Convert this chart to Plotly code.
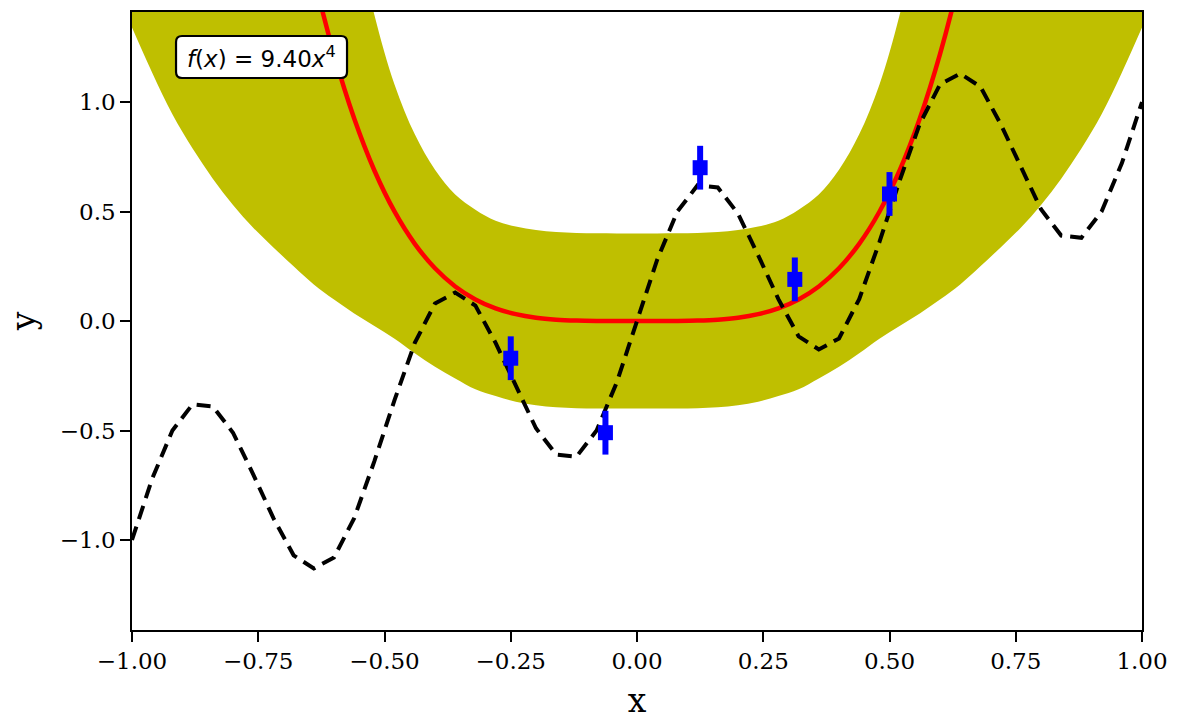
import numpy as np
import plotly.graph_objects as go

# Sample positions shared by the curves and the uncertainty band
x_grid = [round(-1.0 + 0.04 * i, 2) for i in range(51)]

# Underlying (true) function, dashed black
y_true = [
    -1.00, -0.72, -0.50, -0.38, -0.39, -0.51, -0.70, -0.90, -1.07, -1.13,
    -1.08, -0.90, -0.64, -0.36, -0.10, 0.08, 0.13, 0.07, -0.10, -0.30,
    -0.49, -0.61, -0.62, -0.50, -0.28, 0.00, 0.28, 0.50, 0.62, 0.61,
    0.49, 0.30, 0.10, -0.07, -0.13, -0.08, 0.10, 0.36, 0.64, 0.90,
    1.08, 1.13, 1.07, 0.90, 0.70, 0.51, 0.39, 0.38, 0.50, 0.72,
    1.00,
]

# Half-width of the predictive band around the fitted curve
band_half = [
    8.06, 6.85, 5.79, 4.85, 4.03, 3.32, 2.71, 2.19, 1.76, 1.41,
    1.12, 0.89, 0.71, 0.58, 0.50, 0.45, 0.42, 0.41, 0.40, 0.40,
    0.40, 0.40, 0.40, 0.40, 0.40, 0.40, 0.40, 0.40, 0.40, 0.40,
    0.40, 0.40, 0.40, 0.41, 0.42, 0.45, 0.50, 0.58, 0.71, 0.89,
    1.12, 1.41, 1.76, 2.19, 2.71, 3.32, 4.03, 4.85, 5.79, 6.85,
    8.06,
]

# Fitted model f(x) = coef * x^4
coef = 9.40

# Noisy observations with error bars
obs_x = [-0.25, -0.0625, 0.125, 0.3125, 0.5]
obs_y = [-0.17, -0.51, 0.70, 0.19, 0.58]
obs_err = [0.10, 0.10, 0.10, 0.10, 0.10]

x_tick_vals = [-1.0, -0.75, -0.5, -0.25, 0.0, 0.25, 0.5, 0.75, 1.0]
x_tick_text = ["\u22121.00", "\u22120.75", "\u22120.50", "\u22120.25", "0.00",
               "0.25", "0.50", "0.75", "1.00"]
y_tick_vals = [-1.0, -0.5, 0.0, 0.5, 1.0]
y_tick_text = ["\u22121.0", "\u22120.5", "0.0", "0.5", "1.0"]

xs = np.array(x_grid)
y_fit = coef * xs ** 4
half = np.array(band_half)
lower = y_fit - half
upper = y_fit + half

fig = go.Figure()

# Uncertainty band (smoothed edges)
fig.add_trace(go.Scatter(x=xs, y=lower, mode="lines",
                         line=dict(width=0, shape="spline", smoothing=1.0),
                         hoverinfo="skip", showlegend=False))
fig.add_trace(go.Scatter(x=xs, y=upper, mode="lines",
                         line=dict(width=0, shape="spline", smoothing=1.0),
                         fill="tonexty", fillcolor="#BFBF00",
                         hoverinfo="skip", showlegend=False))

# Fitted curve
fig.add_trace(go.Scatter(x=xs, y=y_fit, mode="lines",
                         line=dict(color="#FF0000", width=4.5, shape="spline",
                                   smoothing=1.0),
                         showlegend=False))

# True function
fig.add_trace(go.Scatter(x=x_grid, y=y_true, mode="lines",
                         line=dict(color="black", width=4, dash="14px,8px"),
                         showlegend=False))

# Observations
fig.add_trace(go.Scatter(
    x=obs_x, y=obs_y, mode="markers",
    marker=dict(symbol="square", size=15, color="#0000FF"),
    error_y=dict(type="data", array=obs_err, visible=True,
                 color="#0000FF", thickness=6, width=0),
    showlegend=False))

# Rounded label box (paper coordinates)
bx0, bx1 = 0.0436, 0.2129
by0, by1 = 0.8932, 0.9612
rx, ry = 6 / 1010, 6 / 618
box_path = (
    f"M {bx0 + rx},{by1} L {bx1 - rx},{by1} Q {bx1},{by1} {bx1},{by1 - ry} "
    f"L {bx1},{by0 + ry} Q {bx1},{by0} {bx1 - rx},{by0} "
    f"L {bx0 + rx},{by0} Q {bx0},{by0} {bx0},{by0 + ry} "
    f"L {bx0},{by1 - ry} Q {bx0},{by1} {bx0 + rx},{by1} Z"
)
fig.add_shape(type="path", xref="paper", yref="paper", path=box_path,
              fillcolor="white", line=dict(color="black", width=2.2),
              layer="above")

fig.add_annotation(
    xref="paper", yref="paper", x=(bx0 + bx1) / 2, y=(by0 + by1) / 2,
    xanchor="center", yanchor="middle", showarrow=False,
    text=f"<i>f</i>(<i>x</i>) = {coef:.2f}<i>x</i><sup>4</sup>",
    font=dict(family="DejaVu Sans", size=23, color="black"),
)

axis_common = dict(
    showline=True, linecolor="black", linewidth=1.6, mirror=True,
    ticks="outside", ticklen=10, tickwidth=1.6, tickcolor="black",
    showgrid=False, zeroline=False, automargin=False,
    tickfont=dict(family="DejaVu Serif", size=23, color="black"),
)

fig.update_xaxes(range=[-1.0, 1.0], tickvals=x_tick_vals, ticktext=x_tick_text,
                 title=dict(text="x", font=dict(family="DejaVu Serif", size=33,
                                                color="black"), standoff=18),
                 **axis_common)
fig.update_yaxes(range=[-1.411, 1.411], tickvals=y_tick_vals, ticktext=y_tick_text,
                 title=dict(text="y", font=dict(family="DejaVu Serif", size=33,
                                                color="black"), standoff=14),
                 **axis_common)

fig.update_layout(
    width=1178, height=720,
    margin=dict(l=132, r=36, t=12, b=90),
    plot_bgcolor="white", paper_bgcolor="white",
)

fig.write_html("out.html")
